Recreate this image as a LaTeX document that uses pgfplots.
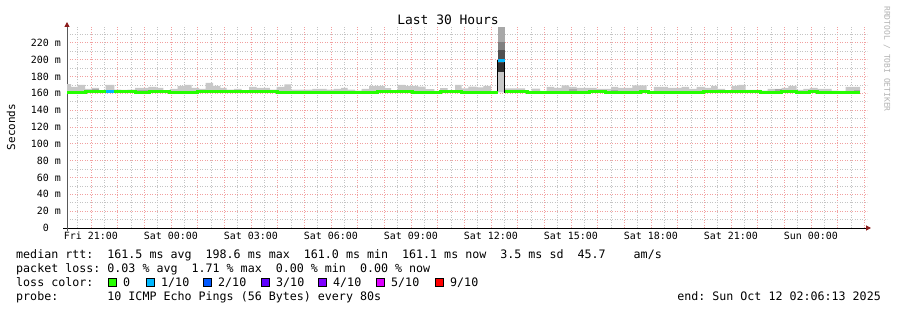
\documentclass[border=0pt]{standalone}
\usepackage{fontspec}
\setmainfont{DejaVu Sans Mono}
\usepackage{pgfplots}
\usepackage{pgfplotstable}
\pgfplotsset{compat=1.18}
\usepgfplotslibrary{fillbetween}
\usetikzlibrary{arrows.meta}
\definecolor{lossgreen}{HTML}{26FF00}
\definecolor{lossa}{HTML}{00B8FF}
\definecolor{lossb}{HTML}{0059FF}
\definecolor{lossc}{HTML}{5E00FF}
\definecolor{lossd}{HTML}{7E00FF}
\definecolor{losse}{HTML}{DD00FF}
\definecolor{lossf}{HTML}{FF0000}
\definecolor{smoke}{HTML}{C8C8C8}
\definecolor{smokeb}{HTML}{A8A8A8}
\definecolor{gridred}{HTML}{F2A0A0}
\definecolor{gridgray}{HTML}{C4C4C4}
\definecolor{arrowred}{HTML}{8B1A1A}

% smoke top per 16-minute step (hours since Fri 20:06:13), ms
\pgfplotstableread{
x t
0 171
0.15 167.6
0.40 170
0.675 165.3
0.925 166.5
1.20 163.3
1.45 170
1.775 164.4
2.025 164
2.275 164.4
2.55 166.5
3.05 167.6
3.36 166.5
3.61 163
3.86 165.3
4.15 169
4.40 170
4.675 166.5
4.95 165.3
5.20 172.4
5.475 169
5.75 166.5
5.99 164.4
6.27 165.3
6.55 163.3
6.825 167.6
7.11 166.5
7.61 164.4
7.86 167.6
8.15 170.5
8.40 164.4
9.20 165.3
9.74 164.4
10.01 165.3
10.275 166.5
10.525 164.4
10.80 163.3
11.05 165.3
11.325 169
11.925 166.1
12.15 162.9
12.40 170
12.675 168.9
13.17 168
13.45 164.9
13.775 163
13.99 166.1
14.275 163
14.55 170
14.80 166
15.05 168
15.36 167
15.61 169
15.90 163
16.144 186
16.406 166
17.175 163
17.425 165.5
17.74 163
17.99 167.6
18.27 166.5
18.55 169.6
18.825 167.6
19.11 166.5
19.86 165.3
20.40 167.6
20.67 166.5
21.20 169.6
21.74 163
22.01 167.6
22.53 166.5
23.05 167.6
23.325 165.3
23.61 167.6
23.925 166.5
24.15 169
24.40 165.3
24.675 163.3
24.925 169
25.175 170
25.45 164
26.025 163.3
26.275 165.3
26.80 166.5
27.05 169
27.36 164
27.61 165.3
27.86 166.5
28.15 165.3
28.675 163.3
28.925 162.9
29.20 167.6
29.74 167.6
}\smoketable

% median, first part (before the spike)
\pgfplotstableread{
x m
0 161
0.675 162
2.55 161
3.075 162
3.86 161
4.91 162
7.875 161
11.625 162
12.94 161
13.99 162
14.81 161
16.144 161
}\medA

% median, second part (after the spike)
\pgfplotstableread{
x m
16.406 162
17.25 161
19.61 162
20.175 161
21.49 162
21.79 161
23.85 162
25.99 161
26.81 162
27.36 161
27.86 162
28.14 161
29.74 161
}\medB

\newcommand{\legfont}{\fontsize{11.7}{13}\selectfont}

\begin{document}
\frenchspacing
\begin{tikzpicture}[x=1bp,y=1bp]
\begin{axis}[
  at={(67bp,82bp)}, anchor=south west,
  scale only axis, width=800bp, height=202bp,
  xmin=0, xmax=30, ymin=0, ymax=240,
  axis x line*=bottom, axis y line*=left,
  x axis line style={draw=black, line width=1bp, shorten <=-4bp, shorten >=-4bp, -{Triangle[length=5bp,width=5bp,color=arrowred]}},
  y axis line style={draw=black!65, line width=1bp, shorten <=-3bp, shorten >=-4bp, -{Triangle[length=5bp,width=5bp,color=arrowred]}},
  xtick={0.8964,1.8964,2.8964,3.8964,4.8964,5.8964,6.8964,7.8964,8.8964,9.8964,10.8964,11.8964,12.8964,13.8964,14.8964,15.8964,16.8964,17.8964,18.8964,19.8964,20.8964,21.8964,22.8964,23.8964,24.8964,25.8964,26.8964,27.8964,28.8964,29.8964},
  xticklabels={Fri 21:00,,,Sat 00:00,,,Sat 03:00,,,Sat 06:00,,,Sat 09:00,,,Sat 12:00,,,Sat 15:00,,,Sat 18:00,,,Sat 21:00,,,Sun 00:00,,},
  minor xtick={0.3964,1.3964,2.3964,3.3964,4.3964,5.3964,6.3964,7.3964,8.3964,9.3964,10.3964,11.3964,12.3964,13.3964,14.3964,15.3964,16.3964,17.3964,18.3964,19.3964,20.3964,21.3964,22.3964,23.3964,24.3964,25.3964,26.3964,27.3964,28.3964,29.3964},
  ytick={0,20,40,60,80,100,120,140,160,180,200,220},
  yticklabels={0\phantom{ m},20 m,40 m,60 m,80 m,100 m,120 m,140 m,160 m,180 m,200 m,220 m},
  minor ytick={10,30,50,70,90,110,130,150,170,190,210,230},
  grid=both,
  major grid style={draw=gridred, line width=0.8bp, dash pattern=on 1bp off 1.5bp},
  minor grid style={draw=gridgray, line width=0.8bp, dash pattern=on 1bp off 1.5bp},
  tick style={draw=none},
  xticklabel style={font=\fontsize{10}{12}\selectfont, inner sep=0pt, yshift=-4bp},
  yticklabel style={font=\fontsize{10}{12}\selectfont, inner sep=0pt, xshift=-6bp},
  clip=true,
]
% light smoke
\addplot[name path=smoketop, draw=none, const plot] table[x=x, y=t] {\smoketable};
\addplot[name path=smokebase, draw=none] coordinates {(0,161) (29.74,161)};
\addplot[fill=smoke, draw=none] fill between[of=smoketop and smokebase];
% darker smoke patches
\addplot[fill=smokeb, draw=none] coordinates {(0.925,162) (1.20,162) (1.20,165) (0.925,165)} -- cycle;
\addplot[fill=smokeb, draw=none] coordinates {(2.55,162) (3.05,162) (3.05,163.8) (2.55,163.8)} -- cycle;
\addplot[fill=smokeb, draw=none] coordinates {(5.475,162) (5.75,162) (5.75,164) (5.475,164)} -- cycle;
\addplot[fill=smokeb, draw=none] coordinates {(18.825,162) (19.11,162) (19.11,165) (18.825,165)} -- cycle;
\addplot[fill=smokeb, draw=none] coordinates {(20.40,162) (20.67,162) (20.67,164) (20.40,164)} -- cycle;
\addplot[fill=smokeb, draw=none] coordinates {(23.96,162) (24.20,162) (24.20,163.8) (23.96,163.8)} -- cycle;
\addplot[fill=smokeb, draw=none] coordinates {(26.55,162) (26.80,162) (26.80,165) (26.55,165)} -- cycle;
\addplot[fill=smokeb, draw=none] coordinates {(27.86,162) (28.15,162) (28.15,164.5) (27.86,164.5)} -- cycle;
\addplot[fill=smokeb, draw=none] coordinates {(29.50,162) (29.74,162) (29.74,164) (29.50,164)} -- cycle;
% spike smoke layers
\addplot[fill={rgb,255:red,168;green,168;blue,168}, draw=none] coordinates {(16.144,220.4) (16.406,220.4) (16.406,238.6) (16.144,238.6)} -- cycle;
\addplot[fill={rgb,255:red,128;green,128;blue,128}, draw=none] coordinates {(16.144,211.7) (16.406,211.7) (16.406,220.4) (16.144,220.4)} -- cycle;
\addplot[fill={rgb,255:red,80;green,80;blue,80}, draw=none] coordinates {(16.144,196.6) (16.406,196.6) (16.406,211.7) (16.144,211.7)} -- cycle;
\addplot[fill={rgb,255:red,48;green,48;blue,48}, draw=none] coordinates {(16.144,185.9) (16.406,185.9) (16.406,196.6) (16.144,196.6)} -- cycle;
% median connectors
\addplot[black, line width=1bp, const plot] coordinates {(15.90,161) (16.144,198.6) (16.406,161) (17.0,161)};
% median, coloured by loss
\addplot[lossgreen, line width=3bp, const plot] table[x=x, y=m] {\medA};
\addplot[lossgreen, line width=3bp, const plot] table[x=x, y=m] {\medB};
\addplot[lossa, line width=3bp, const plot] coordinates {(1.45,162) (1.775,162)};
\addplot[lossa, line width=3bp, const plot] coordinates {(16.144,198.6) (16.406,198.6)};
\end{axis}
% title and labels
\node[anchor=base, font=\fontsize{13}{13}\selectfont] at (448,286) {Last 30 Hours};
\node[rotate=90, font=\fontsize{11}{11}\selectfont] at (11,183) {Seconds};
\node[rotate=-90, font=\fontsize{8}{8}\selectfont, text=black!30] at (887,251) {RRDTOOL / TOBI OETIKER};
% legend
\node[anchor=base west, inner sep=0pt, font=\legfont] at (16,52) {median rtt:~~161.5 ms avg~~198.6 ms max~~161.0 ms min~~161.1 ms now~~3.5 ms sd~~45.7~~~~am/s};
\node[anchor=base west, inner sep=0pt, font=\legfont] at (16,38) {packet loss: 0.03 \% avg~~1.71 \% max~~0.00 \% min~~0.00 \% now};
\node[anchor=base west, inner sep=0pt, font=\legfont] at (16,23.5) {loss color:};
\foreach \bx/\col/\lab in {108/lossgreen/0, 146/lossa/1\slash 10, 203/lossb/2\slash 10, 261/lossc/3\slash 10, 318/lossd/4\slash 10, 376/losse/5\slash 10, 435/lossf/9\slash 10}{
  \filldraw[fill=\col, draw=black, line width=0.8bp] (\bx,23.5) rectangle ++(8,8);
  \node[anchor=base west, inner sep=0pt, font=\legfont] at (\bx+15,23.5) {\lab};
}
\node[anchor=base west, inner sep=0pt, font=\legfont] at (16,10) {probe:~~~~~~~10 ICMP Echo Pings (56 Bytes) every 80s};
\node[anchor=base east, inner sep=0pt, font=\legfont] at (881,10) {end: Sun Oct 12 02:06:13 2025};
\pgfresetboundingbox
\path (0,0) rectangle (897,310);
\end{tikzpicture}
\end{document}
